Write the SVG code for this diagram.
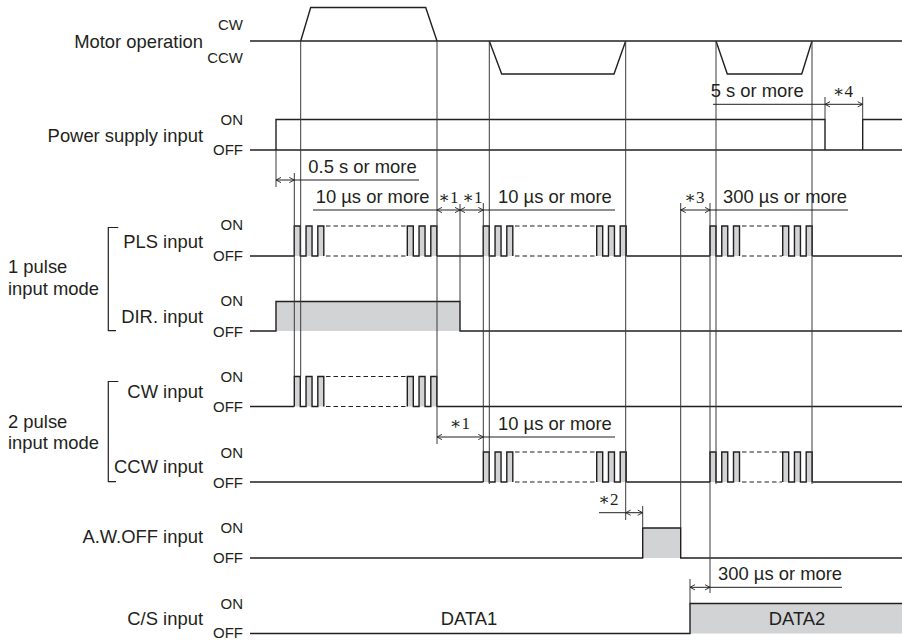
<svg xmlns="http://www.w3.org/2000/svg" width="902" height="642" viewBox="0 0 902 642">
<style>
text{font-family:"Liberation Sans",Arial,sans-serif;fill:#231f20}
.lbl{font-size:18.4px;text-anchor:end}
.lvl{font-size:15px;text-anchor:end}
.txt{font-size:18.4px}
.mid{font-size:18.4px;text-anchor:middle}
.ast{font-family:"Liberation Serif","DejaVu Serif",serif;font-size:17px;text-anchor:middle}
.sig{fill:none;stroke:#231f20;stroke-width:1.4}
.fill{fill:#d1d3d4;stroke:none}
.dash{fill:none;stroke:#231f20;stroke-width:1.1;stroke-dasharray:4.5 3}
.guide{fill:none;stroke:#3a3a3a;stroke-width:1}
.dimline{fill:none;stroke:#231f20;stroke-width:1}
.arr{fill:none;stroke:#231f20;stroke-width:1;marker-start:url(#ah);marker-end:url(#ah)}
.brk{fill:none;stroke:#231f20;stroke-width:1.2}
</style>
<defs>
<marker id="ah" viewBox="-6 -4 8 8" markerWidth="8" markerHeight="8" refX="0" refY="0" orient="auto-start-reverse" markerUnits="userSpaceOnUse">
<path d="M-5,-2.6 L0,0 L-5,2.6" fill="none" stroke="#231f20" stroke-width="0.9"/>
</marker>
<g id="burst">
<rect x="0" y="0" width="6" height="30" class="fill"/>
<rect x="11.75" y="0" width="6" height="30" class="fill"/>
<rect x="23.5" y="0" width="6" height="30" class="fill"/>
<path class="sig" d="M0,30V0H6V30H11.75V0H17.75V30H23.5V0H29.5V30"/>
</g>
</defs>

<g id="motor">
<text class="lbl" x="203" y="48">Motor operation</text>
<text class="lvl" x="243" y="30">CW</text>
<text class="lvl" x="243" y="63">CCW</text>
<path class="sig" d="M250,41H902"/>
<path class="sig" d="M300.7,41L310.7,7.5H425.7L437,41"/>
<path class="sig" d="M489.3,41L501.7,74H614L625.7,41"/>
<path class="sig" d="M716,41L727.3,74H801.7L812,41"/>
</g>

<g id="power">
<text class="lbl" x="203" y="141.7">Power supply input</text>
<text class="lvl" x="243" y="125">ON</text>
<text class="lvl" x="243" y="155">OFF</text>
<path class="sig" d="M250,150H902"/>
<path class="sig" d="M276,150V119.5H825V150"/>
<path class="sig" d="M862.7,150V119.5H902"/>
</g>

<g id="mode1">
<text class="txt" x="8" y="273.3">1 pulse</text>
<text class="txt" x="8" y="295">input mode</text>
<path class="brk" d="M118.3,227.5H108.3V330.7H116"/>
</g>

<g id="pls">
<text class="lbl" x="203" y="248.3">PLS input</text>
<text class="lvl" x="243" y="230">ON</text>
<text class="lvl" x="243" y="261">OFF</text>
<path class="sig" d="M250,256H294.3M436.8,256H483.3M626.2,256H710M812.2,256H902"/>
<use href="#burst" x="294.3" y="226"/>
<use href="#burst" x="407.3" y="226"/>
<use href="#burst" x="483.3" y="226"/>
<use href="#burst" x="596.7" y="226"/>
<use href="#burst" x="710" y="226"/>
<use href="#burst" x="782.7" y="226"/>
<path class="dash" d="M326,226H406M326,256H406M515,226H596M515,256H596M742,226H782M742,256H782"/>
</g>

<g id="dir">
<text class="lbl" x="203" y="323.3">DIR. input</text>
<text class="lvl" x="243" y="306">ON</text>
<text class="lvl" x="243" y="336.7">OFF</text>
<rect class="fill" x="276" y="301.5" width="184" height="29.5"/>
<path class="sig" d="M250,331H276V301.5H460V331H902"/>
</g>

<g id="mode2">
<text class="txt" x="8" y="427.7">2 pulse</text>
<text class="txt" x="8" y="449.3">input mode</text>
<path class="brk" d="M118.3,381.5H108.3V481.7H116"/>
</g>

<g id="cw">
<text class="lbl" x="203" y="398.3">CW input</text>
<text class="lvl" x="243" y="381.7">ON</text>
<text class="lvl" x="243" y="411.7">OFF</text>
<path class="sig" d="M250,406.5H294.3M436.8,406.5H902"/>
<use href="#burst" x="294.3" y="376.5"/>
<use href="#burst" x="407.3" y="376.5"/>
<path class="dash" d="M326,376.5H406M326,406.5H406"/>
</g>

<g id="ccw">
<text class="lbl" x="203" y="473.3">CCW input</text>
<text class="lvl" x="243" y="457.7">ON</text>
<text class="lvl" x="243" y="487.7">OFF</text>
<path class="sig" d="M250,482H483.3M626.2,482H710M812.2,482H902"/>
<use href="#burst" x="483.3" y="452"/>
<use href="#burst" x="596.7" y="452"/>
<use href="#burst" x="710" y="452"/>
<use href="#burst" x="782.7" y="452"/>
<path class="dash" d="M515,452H596M515,482H596M742,452H782M742,482H782"/>
</g>

<g id="awoff">
<text class="lbl" x="203" y="543.3">A.W.OFF input</text>
<text class="lvl" x="243" y="533.3">ON</text>
<text class="lvl" x="243" y="563.3">OFF</text>
<rect class="fill" x="642.7" y="528" width="38" height="30"/>
<path class="sig" d="M250,558H642.7V528H680.7V558H902"/>
</g>

<g id="cs">
<text class="lbl" x="203" y="625">C/S input</text>
<text class="lvl" x="243" y="609.3">ON</text>
<text class="lvl" x="243" y="638.3">OFF</text>
<rect class="fill" x="690" y="603.5" width="212" height="30"/>
<path class="sig" d="M250,633.5H690V603.5H902"/>
<text class="mid" x="469" y="625">DATA1</text>
<text class="mid" x="797" y="625">DATA2</text>
</g>

<g id="connectors">
<path class="guide" d="M276,150V187M294.3,173V376.5M300.7,41V376.5M437,41V444M460,204V301.5M483.3,203V452M489.3,41V484M625.7,41V520M680.7,203V528M710,203V593M716,41V484M812,41V484M825,97V119.5M862.7,97V119.5M642.7,506V528M690,579V603.5"/>
<path class="arr" d="M276,180H294.3"/>
<path class="dimline" d="M294.3,180H419"/>
<path class="dimline" d="M313,210H437M483.3,210H615"/>
<path class="arr" d="M437,210H460"/>
<path class="arr" d="M460,210H483.3"/>
<path class="arr" d="M680.7,210H710"/>
<path class="dimline" d="M710,210H848"/>
<path class="arr" d="M437,437H483.3"/>
<path class="dimline" d="M483.3,437H615"/>
<path class="dimline" d="M599,512.7H625.7"/>
<path class="arr" d="M625.7,512.7H642.7"/>
<path class="arr" d="M690,587.3H710"/>
<path class="dimline" d="M710,587.3H842"/>
<path class="dimline" d="M713,104.3H825"/>
<path class="arr" d="M825,104.3H862.7"/>
<text class="txt" x="308.3" y="173">0.5 s or more</text>
<text class="txt" x="315.7" y="203.3">10 µs or more</text>
<text class="ast" x="448.5" y="203.3">∗1</text>
<text class="ast" x="472.5" y="203.3">∗1</text>
<text class="txt" x="498" y="203.3">10 µs or more</text>
<text class="ast" x="694.5" y="202.7">∗3</text>
<text class="txt" x="723" y="203.3">300 µs or more</text>
<text class="ast" x="460" y="429.3">∗1</text>
<text class="txt" x="498" y="430">10 µs or more</text>
<text class="ast" x="608.5" y="505">∗2</text>
<text class="txt" x="718" y="580">300 µs or more</text>
<text class="txt" x="710.7" y="96.7">5 s or more</text>
<text class="ast" x="843" y="96.7">∗4</text>
</g>
</svg>
